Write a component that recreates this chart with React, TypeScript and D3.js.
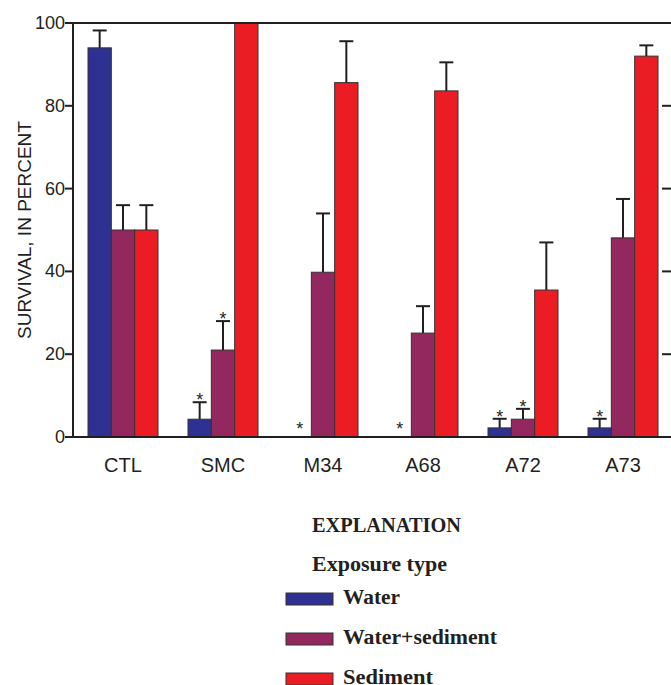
import React from "react";
import * as d3 from "d3";

const categories = ["CTL", "SMC", "M34", "A68", "A72", "A73"];
const seriesNames = ["Water", "Water+sediment", "Sediment"];
const waterValues = [94, 4.3, 0, 0, 2.2, 2.2];
const waterErrors = [98.2, 8.4, 0, 0, 4.4, 4.4];
const waterStars = [false, true, true, true, true, true];
const mixValues = [50, 21, 39.8, 25.1, 4.3, 48.1];
const mixErrors = [56, 28, 54, 31.6, 6.8, 57.5];
const mixStars = [false, true, false, false, true, false];
const sedValues = [50, 100, 85.6, 83.6, 35.5, 92];
const sedErrors = [56, 100, 95.6, 90.5, 47, 94.6];
const sedStars = [false, false, false, false, false, false];
const yTicks = [0, 20, 40, 60, 80, 100];
const colors = ["#2e3192", "#93285f", "#ec1c24"];

const W = 671;
const H = 685;
const plot = { left: 73, right: 673, top: 23, bottom: 437 };

export default function App() {
  const x = d3.scaleBand<string>().domain(categories).range([plot.left, plot.right]).padding(0);
  const groupW = 70;
  const xs = d3.scaleBand<string>().domain(seriesNames).range([0, groupW]).padding(0);
  const y = d3.scaleLinear().domain([0, 100]).range([plot.bottom, plot.top]);

  const series = [
    { name: seriesNames[0], values: waterValues, errors: waterErrors, stars: waterStars, color: colors[0] },
    { name: seriesNames[1], values: mixValues, errors: mixErrors, stars: mixStars, color: colors[1] },
    { name: seriesNames[2], values: sedValues, errors: sedErrors, stars: sedStars, color: colors[2] },
  ];

  const sans = "'Liberation Sans', Arial, Helvetica, sans-serif";
  const serif = "'Liberation Serif', 'Times New Roman', serif";
  const ink = "#231f20";

  return (
    <svg width={W} height={H} style={{ position: "absolute", left: 0, top: 0, background: "#fff" }}>
      {/* bars */}
      {series.map((s) =>
        categories.map((c, i) => {
          const gx = (x(c) as number) + (x.bandwidth() - groupW) / 2;
          const bx = gx + (xs(s.name) as number);
          const bw = xs.bandwidth();
          const v = s.values[i];
          const e = s.errors[i];
          const cx = bx + bw / 2;
          return (
            <g key={s.name + c}>
              {v > 0 && (
                <rect x={bx} y={y(v)} width={bw} height={y(0) - y(v)} fill={s.color} stroke="#333" strokeWidth={1} />
              )}
              {e > v && (
                <g stroke={ink} strokeWidth={2}>
                  <line x1={cx} x2={cx} y1={y(v)} y2={y(e)} />
                  <line x1={cx - 7} x2={cx + 7} y1={y(e)} y2={y(e)} />
                </g>
              )}
              {s.stars[i] && (
                <text
                  x={cx}
                  y={e > v ? y(e) + 4 : y(0) - 2}
                  textAnchor="middle"
                  fontFamily={sans}
                  fontSize={18}
                  fill={ink}
                >
                  *
                </text>
              )}
            </g>
          );
        })
      )}

      {/* frame */}
      <g stroke={ink} strokeWidth={2}>
        <line x1={plot.left} x2={plot.left} y1={plot.top - 1} y2={plot.bottom + 1} />
        <line x1={plot.right} x2={plot.right} y1={plot.top - 1} y2={plot.bottom + 1} />
        <line x1={plot.left - 1} x2={plot.right + 1} y1={plot.top} y2={plot.top} />
        <line x1={plot.left - 1} x2={plot.right + 1} y1={plot.bottom} y2={plot.bottom} />
        {yTicks.map((t) => (
          <g key={t}>
            <line x1={plot.left - 8} x2={plot.left} y1={y(t)} y2={y(t)} />
            <line x1={plot.right - 11} x2={plot.right} y1={y(t)} y2={y(t)} />
          </g>
        ))}
      </g>

      {/* y tick labels */}
      {yTicks.map((t) => (
        <text key={t} x={plot.left - 8} y={y(t) + 6} textAnchor="end" fontFamily={sans} fontSize={18} fill={ink}>
          {t}
        </text>
      ))}

      {/* x labels */}
      {categories.map((c) => (
        <text
          key={c}
          x={(x(c) as number) + x.bandwidth() / 2}
          y={plot.bottom + 35}
          textAnchor="middle"
          fontFamily={sans}
          fontSize={20}
          fill={ink}
        >
          {c}
        </text>
      ))}

      {/* y axis title */}
      <text
        transform={`translate(31, ${(plot.top + plot.bottom) / 2}) rotate(-90)`}
        textAnchor="middle"
        fontFamily={sans}
        fontSize={19}
        fill={ink}
      >
        SURVIVAL, IN PERCENT
      </text>

      {/* legend */}
      <text x={312} y={532} fontFamily={serif} fontWeight="bold" fontSize={20} fill={ink} textLength={149} lengthAdjust="spacingAndGlyphs">
        EXPLANATION
      </text>
      <text x={312} y={571} fontFamily={serif} fontWeight="bold" fontSize={20} fill={ink} textLength={135} lengthAdjust="spacingAndGlyphs">
        Exposure type
      </text>
      {series.map((s, i) => (
        <g key={s.name}>
          <rect x={286} y={593 + i * 40} width={47} height={12} fill={s.color} stroke="#333" strokeWidth={1} />
          <text
            x={343}
            y={604 + i * 40}
            fontFamily={serif}
            fontWeight="bold"
            fontSize={20}
            fill={ink}
            textLength={[57, 154, 90][i]}
            lengthAdjust="spacingAndGlyphs"
          >
            {s.name}
          </text>
        </g>
      ))}
    </svg>
  );
}
